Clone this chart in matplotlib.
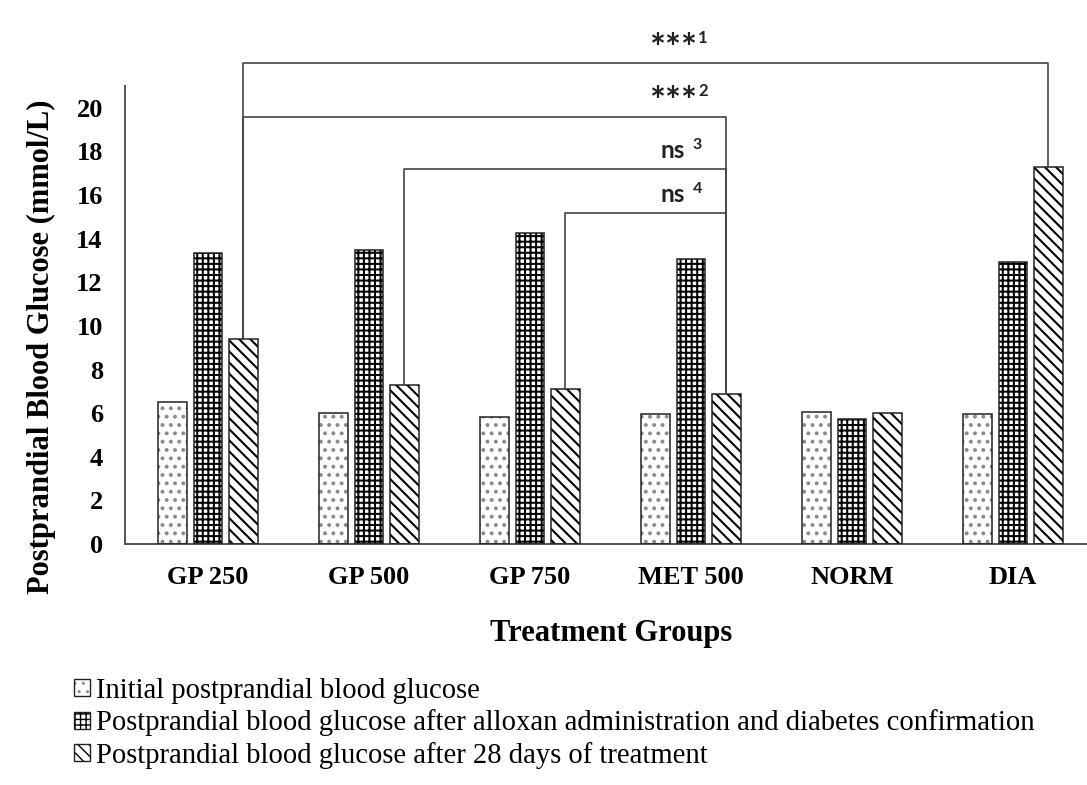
import matplotlib
matplotlib.use('Agg')
import matplotlib.pyplot as plt
import numpy as np
from matplotlib.patches import Patch
from matplotlib.legend_handler import HandlerTuple

groups = ['GP 250', 'GP 500', 'GP 750', 'MET 500', 'NORM', 'DIA']
initial = [6.5, 6.0, 5.83, 5.96, 6.05, 5.96]
after_alloxan = [13.35, 13.5, 14.27, 13.07, 5.73, 12.93]
after_28_days = [9.4, 7.3, 7.1, 6.88, 6.0, 17.3]

series_labels = [
    'Initial postprandial blood glucose',
    'Postprandial blood glucose after alloxan administration and diabetes confirmation',
    'Postprandial blood glucose after 28 days of treatment',
]

# comparisons against the 28-day bars: (group a, group b, level, mark, note)
brackets = [
    (0, 5, 22.06, '***', '1'),
    (0, 3, 19.6, '***', '2'),
    (1, 3, 17.2, 'ns', '3'),
    (2, 3, 15.2, 'ns', '4'),
]

serif = ['Liberation Serif', 'DejaVu Serif']
sans = ['Lato', 'DejaVu Sans']

# fill colour, hatch, hatch colour, hatch linewidth
styles = [
    ('white', '..', '#8a8a8a', 1.6),
    ('white', '+++', 'black', 1.45),
    ('white', '\\\\\\', 'black', 1.5),
]


def hatched(face, hatch, hcolor, hlw, **kw):
    with plt.rc_context({'hatch.linewidth': hlw}):
        p = Patch(facecolor=face, edgecolor=hcolor, hatch=hatch, lw=0, **kw)
    if hasattr(p, 'set_hatch_linewidth'):
        p.set_hatch_linewidth(hlw)
    return p


fig = plt.figure(figsize=(10.87, 7.85), dpi=100)
ax = fig.add_axes([0.115, 0.307, 0.885, 0.5834])

x = np.arange(len(groups))
width = 0.18
offsets = [-0.22, 0.0, 0.22]
values = [initial, after_alloxan, after_28_days]

for vals, off, (face, hatch, hcolor, hlw) in zip(values, offsets, styles):
    with plt.rc_context({'hatch.linewidth': hlw}):
        bars = ax.bar(x + off, vals, width, color=face, edgecolor=hcolor,
                      hatch=hatch, lw=0, zorder=2)
    for b in bars:
        if hasattr(b, 'set_hatch_linewidth'):
            b.set_hatch_linewidth(hlw)
    ax.bar(x + off, vals, width, fill=False, edgecolor='#222222', lw=1.1,
           zorder=3)

# brackets
hatch_x = x + offsets[2]
for a, b, level, mark, note in brackets:
    ax.plot([hatch_x[a], hatch_x[a], hatch_x[b], hatch_x[b]],
            [after_28_days[a], level, level, after_28_days[b]],
            color='#444444', lw=1.2, clip_on=False, zorder=4)
    if mark == '***':
        ax.text(3.037, level + 0.1, mark, ha='right', va='baseline',
                fontsize=27, fontweight='bold', family=sans, color='#222222')
        ax.text(3.043, level + 1.15, note, ha='left', va='center',
                fontsize=12, fontweight='bold', family=sans, color='#222222')
    else:
        ax.text(2.963, level + 0.5, mark, ha='right', va='baseline',
                fontsize=17.5, fontweight='bold', family=sans, color='#222222')
        ax.text(3.012, level + 1.1, note, ha='left', va='center',
                fontsize=11.5, fontweight='bold', family=sans, color='#222222')

ax.set_xlim(-0.5155, 5.4596)
ax.set_ylim(0, 21)
ax.set_yticks(np.arange(0, 21, 2))
ax.set_xticks(x)
ax.set_xticklabels(groups)
for lab in ax.get_xticklabels() + ax.get_yticklabels():
    lab.set_family(serif)
    lab.set_fontweight('bold')
    lab.set_fontsize(19)
ax.tick_params(axis='both', length=0, colors='black')
ax.tick_params(axis='x', pad=16)
ax.tick_params(axis='y', pad=16)

for side in ['top', 'right']:
    ax.spines[side].set_visible(False)
for side in ['left', 'bottom']:
    ax.spines[side].set_color('#555555')
    ax.spines[side].set_linewidth(1.4)

fig.text(41 / 1087, 1 - 347 / 785, 'Postprandial Blood Glucose (mmol/L)',
         rotation=90, ha='center', va='center', fontsize=22,
         fontweight='bold', family=serif)
fig.text(611 / 1087, 1 - 633 / 785, 'Treatment Groups', ha='center',
         va='center', fontsize=22, fontweight='bold', family=serif)

handles = []
for face, hatch, hcolor, hlw in styles:
    fill = hatched(face, hatch, hcolor, hlw)
    outline = Patch(fill=False, edgecolor='#222222', lw=1.0)
    handles.append((fill, outline))

fig.legend(handles, series_labels, loc='upper left',
           bbox_to_anchor=(74 / 1087, 1 - 678 / 785),
           handler_map={tuple: HandlerTuple(ndivide=1, pad=0)},
           frameon=False, prop={'family': serif, 'size': 20.6},
           handlelength=0.55, handleheight=0.55, handletextpad=0.22,
           labelspacing=0.19, borderpad=0, borderaxespad=0)

fig.savefig('out.png', dpi=100)
